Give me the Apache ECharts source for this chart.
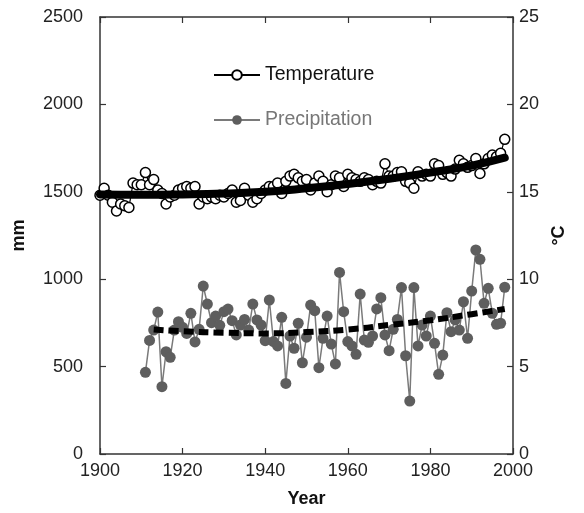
<!DOCTYPE html>
<html><head><meta charset="utf-8">
<script src="https://cdn.jsdelivr.net/npm/echarts@6/dist/echarts.min.js"></script>
<style>html,body{margin:0;padding:0;background:#fff}#c{width:584px;height:513px}</style>
</head><body><div id="c"></div>
<script>
const tempYears = [];
for (let y = 1900; y <= 1998; y++) tempYears.push(y);
const temperature = [
14.8,15.2,14.8,14.4,13.9,14.3,14.2,14.1,15.5,15.4,
15.4,16.1,15.4,15.7,15.1,14.9,14.3,14.7,14.8,15.1,
15.2,15.3,15.2,15.3,14.3,14.7,14.6,14.7,14.6,14.8,
14.7,14.9,15.1,14.4,14.5,15.2,14.8,14.4,14.6,14.9,
15.1,15.3,15.3,15.5,14.9,15.6,15.9,16.0,15.8,15.6,
15.7,15.1,15.5,15.9,15.6,15.0,15.4,15.9,15.8,15.3,
16.0,15.8,15.7,15.6,15.8,15.7,15.4,15.6,15.5,16.6,
15.9,15.9,16.1,16.15,15.6,15.5,15.2,16.15,15.9,16.0,
15.9,16.6,16.5,16.0,16.1,15.9,16.3,16.8,16.6,16.4,
16.5,16.9,16.05,16.6,16.9,17.1,17.0,17.2,18.0
];
const precipYears = [];
for (let y = 1911; y <= 1998; y++) precipYears.push(y);
const precipitation = [
467,650,709,812,385,585,553,709,757,725,
690,805,641,713,961,858,751,789,736,814,
829,763,681,738,770,709,858,767,738,648,
881,643,618,782,404,675,605,748,522,668,
852,820,494,662,789,629,515,1039,814,643,
618,570,915,652,639,675,830,894,681,591,
713,770,952,562,303,952,618,738,675,789,
633,456,566,808,700,767,709,871,662,932,
1167,1114,862,948,805,742,748,954
];
const tempTrendYears = [1900,1910,1920,1930,1940,1950,1960,1970,1980,1990,1998];
const tempTrend = [14.85,14.83,14.85,14.9,15.0,15.2,15.45,15.75,16.1,16.5,16.95];
const precipTrendYears = [1913,1920,1930,1940,1950,1960,1970,1980,1990,1998];
const precipTrend = [712,702,694,690,698,712,738,765,800,830];

const pairs = (xs, ys) => xs.map((x, i) => [x, ys[i]]);
const font = '"Liberation Sans", Arial, Helvetica, sans-serif';
const axisCol = '#333';
const plain = v => String(v);

const chart = echarts.init(document.getElementById('c'), null, {renderer: 'canvas'});
chart.setOption({
  animation: false,
  backgroundColor: '#fff',
  textStyle: {fontFamily: font},
  grid: {left: 100, right: 71, top: 17, bottom: 59},
  legend: {
    left: 208, top: 60, orient: 'vertical', itemGap: 25,
    itemWidth: 46, itemHeight: 12,
    textStyle: {fontSize: 19.5, fontFamily: font},
    data: [
      {name: 'Temperature', textStyle: {color: '#111'}},
      {name: 'Precipitation', textStyle: {color: '#777'}}
    ]
  },
  xAxis: [{
    type: 'value', min: 1900, max: 2000, interval: 20,
    name: 'Year', nameLocation: 'middle', nameGap: 36,
    nameTextStyle: {fontSize: 18, fontWeight: 'bold', color: '#111', fontFamily: font},
    axisLine: {onZero: false, lineStyle: {color: axisCol, width: 1.5}},
    axisTick: {inside: true, length: 6, lineStyle: {color: axisCol, width: 1.2}},
    axisLabel: {fontSize: 18, color: '#222', margin: 8, fontFamily: font, formatter: plain},
    splitLine: {show: false}
  }, {
    type: 'value', min: 1900, max: 2000, interval: 20, position: 'top',
    axisLine: {show: true, onZero: false, lineStyle: {color: axisCol, width: 1.5}},
    axisTick: {show: true, inside: true, length: 6, lineStyle: {color: axisCol, width: 1.2}},
    axisLabel: {show: false}, splitLine: {show: false}
  }],
  yAxis: [{
    type: 'value', min: 0, max: 2500, interval: 500, position: 'left',
    name: 'mm', nameLocation: 'middle', nameGap: 72, nameRotate: 90,
    nameTextStyle: {fontSize: 18, fontWeight: 'bold', color: '#111', fontFamily: font},
    axisLine: {show: true, onZero: false, lineStyle: {color: axisCol, width: 1.5}},
    axisTick: {show: true, inside: true, length: 6, lineStyle: {color: axisCol, width: 1.2}},
    axisLabel: {fontSize: 18, color: '#222', margin: 17, fontFamily: font, formatter: plain},
    splitLine: {show: false}
  }, {
    type: 'value', min: 0, max: 25, interval: 5, position: 'right',
    name: '°C', nameLocation: 'middle', nameGap: 36, nameRotate: 90,
    nameTextStyle: {fontSize: 18, fontWeight: 'bold', color: '#111', fontFamily: font},
    axisLine: {show: true, onZero: false, lineStyle: {color: axisCol, width: 1.5}},
    axisTick: {show: true, inside: true, length: 6, lineStyle: {color: axisCol, width: 1.2}},
    axisLabel: {fontSize: 18, color: '#222', margin: 6, fontFamily: font, formatter: plain},
    splitLine: {show: false}
  }],
  series: [{
    name: 'Precipitation', type: 'line', yAxisIndex: 0, z: 2,
    data: pairs(precipYears, precipitation),
    color: '#5e5e5e',
    symbol: 'circle', symbolSize: 11,
    itemStyle: {color: '#5e5e5e'},
    lineStyle: {color: '#7a7a7a', width: 1.5}
  }, {
    name: 'Precipitation trend', type: 'line', yAxisIndex: 0, z: 4,
    data: pairs(precipTrendYears, precipTrend),
    smooth: true, symbol: 'none',
    lineStyle: {color: '#000', width: 6, type: [10, 5], cap: 'butt'}
  }, {
    name: 'Temperature', type: 'line', yAxisIndex: 1, z: 2,
    data: pairs(tempYears, temperature),
    color: '#000',
    symbol: 'circle', symbolSize: 10,
    itemStyle: {color: '#fff', borderColor: '#000', borderWidth: 1.5},
    lineStyle: {color: '#000', width: 1.2}
  }, {
    name: 'Temperature trend', type: 'line', yAxisIndex: 1, z: 5,
    data: pairs(tempTrendYears, tempTrend),
    smooth: true, symbol: 'none',
    lineStyle: {color: '#000', width: 8, type: 'solid', cap: 'round'}
  }]
});
</script>
</body></html>
